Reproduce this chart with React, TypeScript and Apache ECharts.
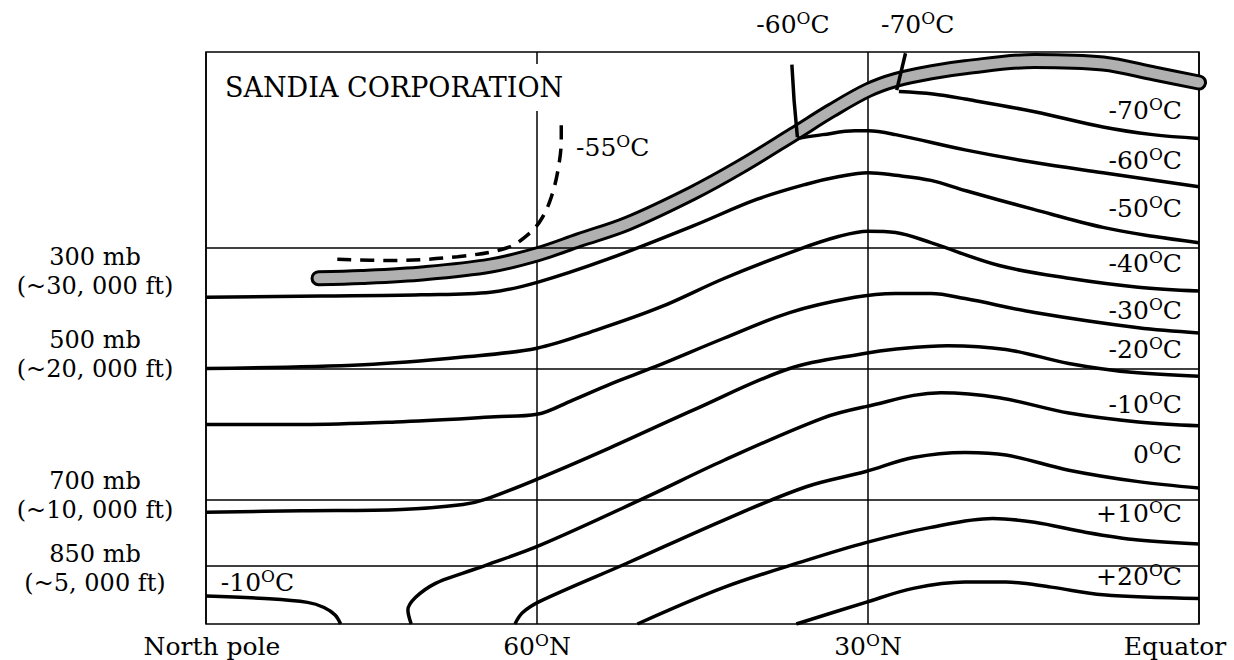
import React, { useEffect, useRef } from "react";
import * as echarts from "echarts";

const FONT = "DejaVu Serif";

// x: latitude (deg N), y: height (thousand ft, as drawn)
const latTicks = [90, 60, 30, 0];

const pressureLevels = [29.6, 20.1, 9.8, 4.6];
const pressureNames = ["300 mb", "500 mb", "700 mb", "850 mb"];
const pressureHeights = ["(~30, 000 ft)", "(~20, 000 ft)", "(~10, 000 ft)", "(~5, 000 ft)"];
const pressureLabelAlt = [27.7, 21.2, 10.1, 4.4];

const tropopause = [[79.8, 27.2], [75.9, 27.3], [70.2, 27.6], [64.2, 28.2], [59.9, 29.1], [56.2, 30.2], [51.8, 31.5], [45.9, 33.9], [41.5, 36.0], [36.8, 38.5], [33.3, 40.4], [30, 42.0], [27.5, 42.8], [24.3, 43.4], [21.2, 43.8], [14.9, 44.3], [8.7, 44.1], [4.0, 43.3], [0, 42.6]];

const isoM70Marker = [[26.6, 44.9], [27.4, 42.0]];
const isoM70 = [[27.2, 41.9], [24.1, 41.7], [21.2, 41.3], [14.9, 40.3], [8.7, 39.1], [4.2, 38.5], [0, 38.2]];
const isoM60Marker = [[36.9, 44.0], [36.7, 41.2], [36.4, 38.3]];
const isoM60 = [[36.4, 38.2], [34.1, 38.5], [31.2, 38.8], [30, 38.8], [27.5, 38.5], [21.2, 37.3], [14.9, 36.3], [8.7, 35.5], [0, 34.4]];
const isoM55 = [[78.1, 28.7], [73.2, 28.6], [67.2, 28.9], [62.7, 29.6], [60.6, 30.8], [59.5, 32.0], [58.7, 33.6], [58.1, 35.7], [57.8, 38.1], [57.8, 39.5]];
const isoM50 = [[90, 25.7], [79.5, 25.8], [70.5, 25.9], [64.2, 26.1], [59.9, 26.9], [53.6, 28.7], [45.9, 31.3], [40.1, 33.4], [35.6, 34.6], [32.6, 35.2], [30.0, 35.5], [27.5, 35.3], [24.3, 34.9], [21.2, 34.1], [14.9, 32.6], [8.7, 31.2], [4.2, 30.5], [0, 30.0]];
const isoM40 = [[90, 20.1], [75.7, 20.4], [66.7, 21.0], [60, 21.7], [54.7, 23.1], [48.9, 24.9], [43.0, 27.2], [36.5, 29.4], [32.6, 30.5], [30, 30.9], [27.5, 30.8], [24.3, 30.0], [18.1, 28.2], [11.8, 27.2], [5.5, 26.5], [0, 26.2]];
const isoM30 = [[90, 15.7], [81.3, 15.7], [72.8, 15.9], [63.8, 16.3], [60, 16.5], [56.8, 17.6], [53.3, 18.9], [49.4, 20.2], [43.0, 22.5], [37.1, 24.5], [31.2, 25.7], [27.5, 26.0], [24.3, 26.0], [21.2, 25.6], [14.9, 24.5], [5.5, 23.3], [0, 22.9]];
const isoM20 = [[90, 8.8], [81.3, 8.9], [72.3, 9.0], [66.7, 9.4], [64.7, 9.8], [59.7, 11.5], [53.8, 13.7], [45.9, 16.8], [37.1, 20.1], [30.2, 21.3], [27.8, 21.6], [22.8, 21.9], [17.5, 21.6], [11.8, 20.5], [6.1, 19.8], [0, 19.5]];
const isoM10Polar = [[90, 2.2], [84.7, 2.0], [80.8, 1.7], [79.3, 1.3], [78.3, 0.7], [77.8, 0]];
const isoM10 = [[71.4, 0], [71.7, 1.1], [71.0, 2.1], [69.2, 3.2], [66.7, 4.0], [64.7, 4.6], [59.7, 6.2], [50.3, 9.9], [43.0, 12.9], [34.1, 16.2], [30.2, 17.1], [23.4, 18.2], [18.1, 17.8], [11.8, 16.6], [5.5, 15.9], [0, 15.6]];
const iso0 = [[62.0, 0], [61.3, 0.9], [59.7, 1.8], [51.8, 4.8], [43.0, 8.2], [35.6, 10.8], [30.2, 12.0], [25.9, 13.1], [21.2, 13.5], [17.5, 13.3], [11.8, 12.1], [5.5, 11.2], [0, 10.7]];
const isoP10 = [[50.9, 0], [43.0, 2.9], [35.6, 5.0], [30.2, 6.4], [24.3, 7.6], [18.7, 8.3], [14.9, 8.0], [10.2, 7.2], [5.5, 6.6], [0, 6.3]];
const isoP20 = [[36.5, 0], [30.2, 1.7], [25.9, 2.8], [21.2, 3.3], [17.5, 3.3], [13.4, 2.9], [8.7, 2.3], [0, 2.0]];

// isotherm labels (temperature in deg C)
const rightLabelTemps = ["-70", "-60", "-50", "-40", "-30", "-20", "-10", "0", "+10", "+20"];
const rightLabelAlt = [40.4, 36.5, 32.7, 28.4, 24.7, 21.6, 17.3, 13.3, 8.7, 3.7];
const rightLabelLat = 1.5;
const topLabelTemps = ["-60", "-70"];
const topLabelLat = [36.8, 25.5];
const topLabelAlt = 47.2;
const innerLabelTemps = ["-55", "-10"];
const innerLabelLat = [56.5, 88.7];
const innerLabelAlt = [37.5, 3.3];

const rich = {
  n: { fontFamily: FONT, fontSize: 25, color: "#000", lineHeight: 30 },
  s: { fontFamily: FONT, fontSize: 17, color: "#000", lineHeight: 17, verticalAlign: "top" },
  np: { fontFamily: FONT, fontSize: 25, color: "#000", lineHeight: 30, padding: [0, 0, 0, 12] },
  eq: { fontFamily: FONT, fontSize: 25, color: "#000", lineHeight: 30, padding: [0, 48, 0, 0] },
  p: { fontFamily: FONT, fontSize: 24, color: "#000", lineHeight: 29 },
};

const degC = (t: string) => `{n|${t}}{s|O}{n|C}`;

function latLabel(v: number) {
  if (v === 90) return "{np|North pole}";
  if (v === 0) return "{eq|Equator}";
  return `{n|${v}}{s|O}{n|N}`;
}

function curve(name: string, data: number[][], extra: any = {}) {
  return {
    type: "line",
    name,
    data,
    smooth: 0.35,
    symbol: "none",
    showSymbol: false,
    silent: true,
    lineStyle: { color: "#000", width: 3.5 },
    z: 3,
    ...extra,
  };
}

function labelSeries(name: string, data: any[], position: string) {
  return {
    type: "scatter",
    name,
    data,
    symbolSize: 1,
    itemStyle: { color: "rgba(0,0,0,0)" },
    clip: false,
    silent: true,
    z: 5,
    label: {
      show: true,
      position,
      distance: 0,
      color: "#000",
      opacity: 1,
      textBorderWidth: 0,
      formatter: (p: any) => degC(p.name),
      rich,
    },
  };
}

export default function App() {
  const ref = useRef<HTMLDivElement>(null);
  useEffect(() => {
    if (!ref.current) return;
    const chart = echarts.init(ref.current, null, { renderer: "svg" });
    const option: any = {
      animation: false,
      backgroundColor: "#fff",
      title: {
        text: "SANDIA CORPORATION",
        left: 222,
        top: 64,
        padding: [10, 3],
        backgroundColor: "#fff",
        textStyle: { fontFamily: FONT, fontSize: 27, fontWeight: "normal", color: "#000" },
      },
      grid: {
        left: 206,
        right: 35,
        top: 52,
        bottom: 36,
        outerBoundsMode: "none",
        containLabel: false,
        show: true,
        borderColor: "#000",
        borderWidth: 1.5,
        backgroundColor: "transparent",
      },
      xAxis: {
        type: "value",
        min: 0,
        max: 90,
        interval: 30,
        inverse: true,
        axisLine: { show: false },
        axisTick: { show: false },
        splitLine: { show: true, lineStyle: { color: "#000", width: 1.5 } },
        axisLabel: {
          margin: 7,
          showMinLabel: true,
          showMaxLabel: true,
          formatter: (v: number) => latLabel(v),
          rich,
        },
      },
      yAxis: {
        type: "value",
        min: 0,
        max: 45,
        axisLine: { show: false },
        axisTick: { show: false },
        splitLine: { show: false },
        axisLabel: {
          customValues: pressureLabelAlt,
          align: "center",
          margin: 111,
          formatter: (v: number) => {
            let idx = 0;
            let best = Infinity;
            pressureLabelAlt.forEach((a, i) => {
              const d = Math.abs(a - v);
              if (d < best) {
                best = d;
                idx = i;
              }
            });
            return `{p|${pressureNames[idx]}}\n{p|${pressureHeights[idx]}}`;
          },
          rich,
        },
      },
      series: [
        {
          type: "line",
          name: "pressure levels",
          data: [],
          silent: true,
          z: 1,
          markLine: {
            silent: true,
            symbol: ["none", "none"],
            label: { show: false },
            lineStyle: { type: "solid", color: "#000", width: 1.5 },
            data: pressureLevels.map((v) => ({ yAxis: v })),
          },
        },
        curve("tropopause edge", tropopause, { lineStyle: { color: "#000", width: 16, cap: "round" }, z: 2 }),
        curve("tropopause", tropopause, { lineStyle: { color: "#b0b0b0", width: 10, cap: "round" }, z: 2 }),
        curve("-70 marker", isoM70Marker, { smooth: false }),
        curve("-70", isoM70),
        curve("-60 marker", isoM60Marker, { smooth: false }),
        curve("-60", isoM60),
        curve("-55", isoM55, { lineStyle: { color: "#000", width: 3.5, type: [14, 9] } }),
        curve("-50", isoM50),
        curve("-40", isoM40),
        curve("-30", isoM30),
        curve("-20", isoM20),
        curve("-10 polar", isoM10Polar),
        curve("-10", isoM10),
        curve("0", iso0),
        curve("+10", isoP10),
        curve("+20", isoP20),
        labelSeries(
          "right labels",
          rightLabelTemps.map((t, i) => ({ name: t, value: [rightLabelLat, rightLabelAlt[i]] })),
          "left"
        ),
        labelSeries(
          "top labels",
          topLabelTemps.map((t, i) => ({ name: t, value: [topLabelLat[i], topLabelAlt] })),
          "inside"
        ),
        labelSeries(
          "inner labels",
          innerLabelTemps.map((t, i) => ({ name: t, value: [innerLabelLat[i], innerLabelAlt[i]] })),
          "right"
        ),
      ],
    };
    chart.setOption(option);
    return () => chart.dispose();
  }, []);
  return (
    <div
      ref={ref}
      style={{ position: "fixed", left: 0, top: 0, width: 1234, height: 660, background: "#fff" }}
    />
  );
}
